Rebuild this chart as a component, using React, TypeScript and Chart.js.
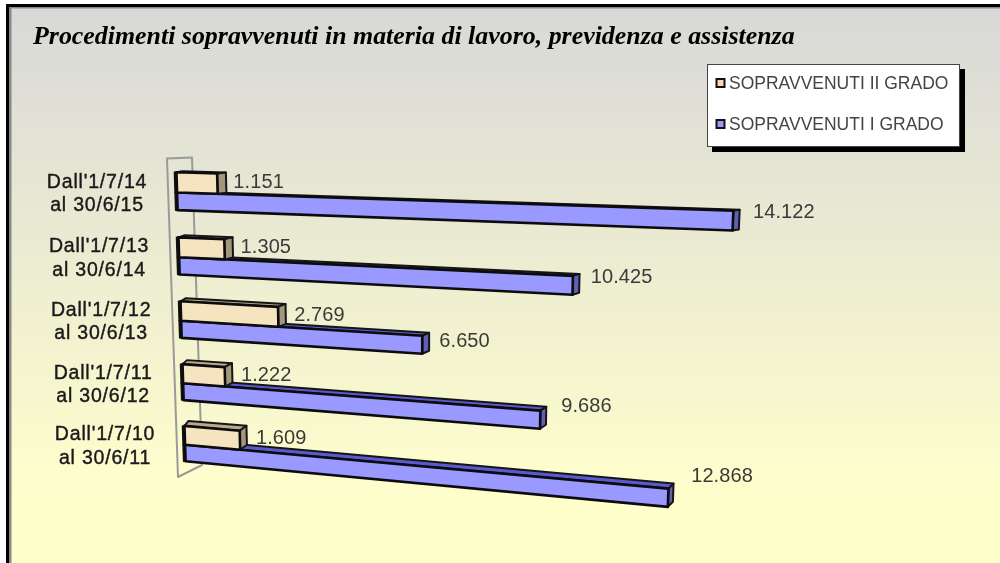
import React, { useEffect, useRef } from "react";
import { Chart, registerables } from "chart.js";

Chart.register(...registerables);

const categories = [
  ["Dall'1/7/14", "al 30/6/15"],
  ["Dall'1/7/13", "al 30/6/14"],
  ["Dall'1/7/12", "al 30/6/13"],
  ["Dall'1/7/11", "al 30/6/12"],
  ["Dall'1/7/10", "al 30/6/11"],
];
const secondGrade = [1151, 1305, 2769, 1222, 1609];
const firstGrade = [14122, 10425, 6650, 9686, 12868];
const secondLabel = "SOPRAVVENUTI II GRADO";
const firstLabel = "SOPRAVVENUTI I GRADO";
const titleText = "Procedimenti sopravvenuti in materia di lavoro, previdenza e assistenza";

// layout-only tuning
const firstLabelLift = [-7, -7, -3, -13, -21];
const firstLabelShift = [3, 1, 0, 4, 6];
const QUAD = [
  [176, 158.5],
  [735, 172.4],
  [720, 526],
  [186, 474],
];

function makeProjection(q: number[][]) {
  const [[x0, y0], [x1, y1], [x2, y2], [x3, y3]] = q;
  const dx1 = x1 - x2, dx2 = x3 - x2, dx3 = x0 - x1 + x2 - x3;
  const dy1 = y1 - y2, dy2 = y3 - y2, dy3 = y0 - y1 + y2 - y3;
  const den = dx1 * dy2 - dx2 * dy1;
  const g = (dx3 * dy2 - dx2 * dy3) / den;
  const h = (dx1 * dy3 - dx3 * dy1) / den;
  const a = x1 - x0 + g * x1, b = x3 - x0 + h * x3;
  const d = y1 - y0 + g * y1, e = y3 - y0 + h * y3;
  return (u: number, v: number) => {
    const w = g * u + h * v + 1;
    return [(a * u + b * v + x0) / w, (d * u + e * v + y0) / w];
  };
}
const project = makeProjection(QUAD);
const fmt = (n: number) => String(n).replace(/\B(?=(\d{3})+$)/g, ".");

function poly(ctx: CanvasRenderingContext2D, pts: number[][], fill: any, stroke: string, lw: number) {
  ctx.beginPath();
  pts.forEach((p, i) => (i ? ctx.lineTo(p[0], p[1]) : ctx.moveTo(p[0], p[1])));
  ctx.closePath();
  ctx.fillStyle = fill;
  ctx.fill();
  ctx.lineWidth = lw;
  ctx.strokeStyle = stroke;
  ctx.stroke();
}

const backgroundPlugin = {
  id: "frameBackground",
  beforeDraw(chart: any) {
    const { ctx, width, height } = chart;
    ctx.save();
    ctx.fillStyle = "#ffffff";
    ctx.fillRect(0, 0, width, height);
    const g = ctx.createLinearGradient(0, 8, 0, 500);
    g.addColorStop(0, "#d8d8d8");
    g.addColorStop(1, "#ffffcc");
    ctx.fillStyle = g;
    ctx.fillRect(6, 4, width - 6, height - 4);
    ctx.fillStyle = "#888888";
    ctx.fillRect(9, 7, width - 9, 1.5);
    ctx.fillRect(9, 7, 2.5, height - 7);
    ctx.fillStyle = "#000000";
    ctx.fillRect(6, 4, width - 6, 3);
    ctx.fillRect(6, 4, 3, height - 4);
    ctx.restore();
  },
};

const box3dPlugin = {
  id: "box3d",
  beforeDatasetDraw() {
    return false;
  },
  afterDatasetsDraw(chart: any) {
    const { ctx, chartArea: ca } = chart;
    const P = (x: number, y: number) =>
      project((x - ca.left) / (ca.right - ca.left), (y - ca.top) / (ca.bottom - ca.top));
    const zero = chart.scales.x.getPixelForValue(0);
    const yScale = chart.scales.y;
    ctx.save();
    // axis wall
    const tl = P(zero, ca.top), bl = P(zero, ca.bottom);
    const wall = [
      [tl[0] - 9, tl[1]],
      [tl[0] + 16, tl[1] - 1],
      [bl[0] + 16, bl[1] - 9],
      [bl[0] - 8, bl[1] + 3],
    ];
    ctx.lineJoin = "round";
    poly(ctx, wall, "rgba(0,0,0,0)", "#9a9a9a", 2);

    const tanMeta = chart.getDatasetMeta(0);
    const blueMeta = chart.getDatasetMeta(1);
    const faces = [
      { front: "#f6e3c0", side: "#a3977b", top: "#b9a98e" },
      { front: "#9999ff", side: "#5f5fb8", top: "#5a5ad0" },
    ];
    const drawBox = (x0: number, x1: number, yA: number, yB: number, row: number, c: any) => {
      const a = P(x0, yA), b = P(x1, yA), e = P(x1, yB), f = P(x0, yB);
      const u = (x1 - ca.left) / (ca.right - ca.left);
      const ddx = (9 - 0.5 * row) * (1 - 0.3 * u);
      const ddy = -1 - row;
      const dx0 = 9 - 0.5 * row;
      const back = (p: number[], dx: number) => [p[0] + dx, p[1] + ddy];
      ctx.filter = "blur(0.4px)";
      poly(ctx, [a, f, [f[0] - 2, f[1]], [a[0] - 2, a[1]]], "#111111", "#111111", 1.5);
      poly(ctx, [a, b, back(b, ddx), back(a, dx0 - 3)], c.top, "#151515", 2);
      poly(ctx, [b, e, back(e, ddx), back(b, ddx)], c.side, "#151515", 2);
      poly(ctx, [a, b, e, f], c.front, "#0c0c0c", 2.6);
      ctx.filter = "none";
    };
    const split = 1.8;
    for (let i = 0; i < categories.length; i++) {
      const tan = tanMeta.data[i].getProps(["x", "y", "base", "height"], true);
      const blue = blueMeta.data[i].getProps(["x", "y", "base", "height"], true);
      drawBox(blue.base, blue.x, blue.y - blue.height / 2 + split, blue.y + blue.height / 2, i, faces[1]);
      drawBox(tan.base, tan.x, tan.y - tan.height / 2, tan.y + tan.height / 2 + split, i, faces[0]);

      // value labels
      ctx.fillStyle = "#3a3a3a";
      ctx.font = "20px 'Liberation Sans'";
      ctx.textAlign = "left";
      ctx.textBaseline = "middle";
      (ctx as any).letterSpacing = "0.1px";
      const tanEnd = P(tan.x, tan.y);
      ctx.fillText(fmt(secondGrade[i]), tanEnd[0] + 16, tanEnd[1] - 1);
      const blueEnd = P(blue.x, blue.y);
      ctx.fillText(fmt(firstGrade[i]), blueEnd[0] + 17 + firstLabelShift[i], blueEnd[1] + firstLabelLift[i]);

      // category labels
      const c = P(zero, yScale.getPixelForValue(i));
      ctx.textAlign = "center";
      ctx.fillStyle = "#1a1a1a";
      ctx.strokeStyle = "#1a1a1a";
      ctx.lineWidth = 0.4;
      ctx.font = "19.5px 'Liberation Sans'";
      (ctx as any).letterSpacing = "0.8px";
      categories[i].forEach((line, k) => {
        const ly = c[1] + (k === 0 ? -9 : 14.5);
        ctx.fillText(line, c[0] - 80, ly);
        ctx.strokeText(line, c[0] - 80, ly);
      });
      (ctx as any).letterSpacing = "0px";
    }
    ctx.restore();
  },
  afterDraw(chart: any) {
    const { ctx } = chart;
    ctx.save();
    ctx.fillStyle = "#000000";
    ctx.fillRect(712, 69, 253, 83);
    ctx.fillStyle = "#ffffff";
    ctx.fillRect(707, 64, 253, 83);
    ctx.strokeStyle = "#444444";
    ctx.lineWidth = 1;
    ctx.strokeRect(707.5, 64.5, 252, 82);
    const rows = [
      { text: secondLabel, y: 83, color: "#f6d9ae" },
      { text: firstLabel, y: 124, color: "#9999ff" },
    ];
    rows.forEach((r) => {
      ctx.fillStyle = r.color;
      ctx.strokeStyle = "#111111";
      ctx.lineWidth = 2;
      ctx.fillRect(716.5, r.y - 4, 8, 8);
      ctx.strokeRect(716.5, r.y - 4, 8, 8);
      ctx.fillStyle = "#444444";
      ctx.font = "17.5px 'Liberation Sans'";
      ctx.textAlign = "left";
      ctx.textBaseline = "middle";
      ctx.fillText(r.text, 729, r.y + 1);
    });
    ctx.restore();
  },
};

export default function App() {
  const ref = useRef<HTMLCanvasElement>(null);
  useEffect(() => {
    const chart = new Chart(ref.current as HTMLCanvasElement, {
      type: "bar",
      data: {
        labels: categories as any,
        datasets: [
          { label: secondLabel, data: secondGrade, backgroundColor: "#f6e3c0" },
          { label: firstLabel, data: firstGrade, backgroundColor: "#9999ff" },
        ],
      },
      options: {
        indexAxis: "y",
        animation: false,
        responsive: false,
        events: [],
        layout: { padding: { left: 33, top: 0, right: 20, bottom: 10 } },
        datasets: { bar: { categoryPercentage: 0.58, barPercentage: 1 } },
        scales: {
          x: { type: "linear", min: 0, max: 14122, display: false },
          y: { type: "category", display: false, offset: true },
        },
        plugins: {
          legend: { display: false },
          tooltip: { enabled: false },
          title: {
            display: true,
            text: titleText,
            align: "start",
            color: "#000000",
            font: { family: "'Liberation Serif'", size: 25.9, weight: "bold", style: "italic" },
            padding: { top: 22, bottom: 10 },
          },
        },
      } as any,
      plugins: [backgroundPlugin, box3dPlugin],
    });
    return () => chart.destroy();
  }, []);
  return (
    <canvas
      ref={ref}
      width={1000}
      height={563}
      style={{ position: "absolute", left: 0, top: 0, width: 1000, height: 563, display: "block" }}
    />
  );
}
